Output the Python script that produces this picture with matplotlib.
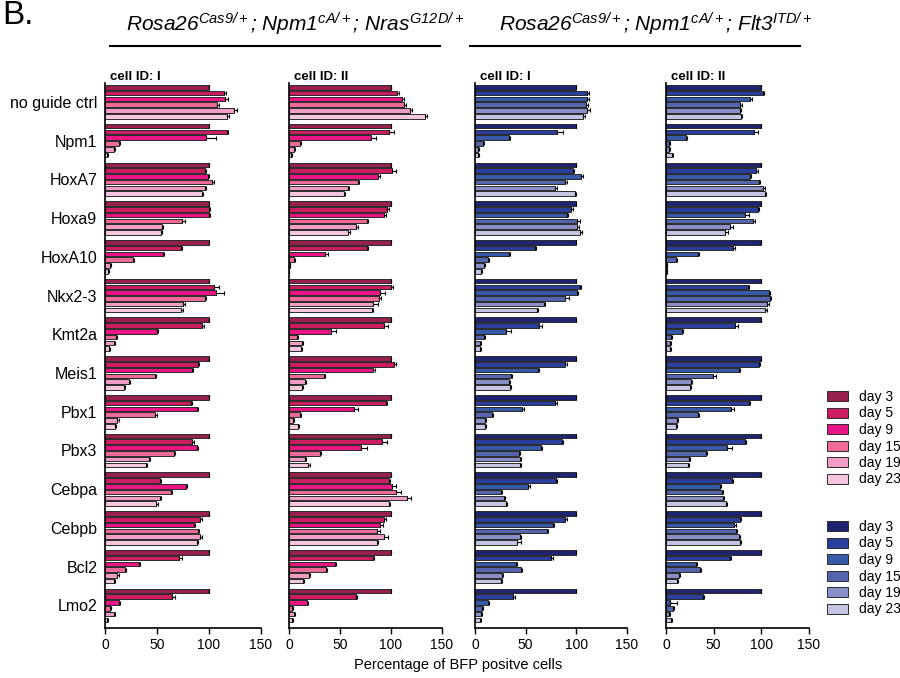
import matplotlib
matplotlib.use('Agg')
import matplotlib.pyplot as plt
import numpy as np
from matplotlib.patches import Patch
from matplotlib.lines import Line2D

plt.rcParams['font.family'] = ['Liberation Sans', 'DejaVu Sans']
plt.rcParams['mathtext.fontset'] = 'custom'
plt.rcParams['mathtext.it'] = 'Liberation Sans:italic'
plt.rcParams['mathtext.rm'] = 'Liberation Sans:italic'
plt.rcParams['mathtext.default'] = 'it'

genes = ['no guide ctrl', 'Npm1', 'HoxA7', 'Hoxa9', 'HoxA10', 'Nkx2-3', 'Kmt2a',
         'Meis1', 'Pbx1', 'Pbx3', 'Cebpa', 'Cebpb', 'Bcl2', 'Lmo2']
days = ['day 3', 'day 5', 'day 9', 'day 15', 'day 19', 'day 23']

pink_colors = ['#98204f', '#cc1c62', '#ea1487', '#ee6a99', '#f19cc4', '#f6c6de']
blue_colors = ['#1f2470', '#2a3e9e', '#3659a8', '#5565ad', '#8a8fc8', '#c4c5e2']

# Nras G12D, cell ID I
nras_I = [[100, 114, 115, 108, 124, 117],
          [100, 117, 97, 13.5, 8.7, 2.3],
          [100, 96.5, 99.4, 103, 96.5, 93],
          [100, 99.7, 99.7, 74.5, 54.5, 53.5],
          [100, 73, 55.5, 26.5, 5, 3],
          [100, 105, 107, 95.8, 75, 72.6],
          [100, 93.5, 49.7, 10.3, 9, 4.2],
          [100, 89.4, 83.5, 47.7, 23, 18],
          [100, 83, 88.7, 48, 12, 10],
          [100, 84, 88.7, 66.5, 42, 39.4],
          [100, 53.3, 78, 63.2, 53.3, 49.5],
          [100, 91.8, 85.2, 89, 91.8, 88.5],
          [100, 71.4, 32.4, 19.2, 12, 8.2],
          [100, 64.3, 13.2, 4.4, 8.2, 2.2]]
nras_I_err = [[0, 2, 3, 2, 3, 2], [0, 1, 10, 1, 1, 1], [0, 1, 1, 2, 1, 1],
              [0, 1, 1, 2, 1, 1], [0, 1, 1, 1, 1, 1], [0, 5, 7, 1, 2, 2],
              [0, 2, 1, 1, 1, 1], [0, 1, 1, 1, 1, 1], [0, 1, 1, 2, 1, 1],
              [0, 2, 1, 1, 1, 1], [0, 1, 1, 1, 1, 1], [0, 1, 1, 1, 1, 1],
              [0, 3, 1, 1, 1, 1], [0, 3, 1, 1, 1, 1]]

# Nras G12D, cell ID II
nras_II = [[100, 106, 110.7, 112.4, 119, 133.5],
           [100, 98.4, 80, 11, 4.6, 2],
           [100, 101, 87.6, 68, 57.7, 54],
           [100, 95.8, 92.8, 76, 65.5, 58],
           [100, 76.5, 34.9, 5.2, 0.7, 0.3],
           [100, 100, 89.6, 88.6, 82.4, 81.8],
           [100, 93, 41.4, 7.8, 12.4, 11.7],
           [100, 103, 82, 34.2, 15.6, 13],
           [100, 95, 63.8, 11, 3.9, 9.1],
           [100, 91.2, 71, 30.6, 16, 18.6],
           [100, 97.8, 101, 104.5, 115.6, 98.3],
           [100, 93.3, 88.8, 86, 93.3, 86.6],
           [100, 82, 44.7, 35.8, 19.6, 14],
           [100, 66, 17.9, 3.4, 4.5, 2.8]]
nras_II_err = [[0, 2, 2, 2, 2, 2], [0, 5, 5, 1, 1, 1], [0, 4, 2, 1, 1, 1],
               [0, 2, 2, 1, 2, 2], [0, 1, 3, 1, 0, 0], [0, 2, 5, 2, 5, 1],
               [0, 4, 5, 1, 1, 1], [0, 2, 2, 1, 1, 1], [0, 1, 4, 1, 1, 1],
               [0, 5, 5, 1, 1, 2], [0, 1, 4, 5, 4, 1], [0, 2, 3, 3, 4, 1],
               [0, 1, 1, 1, 1, 1], [0, 1, 1, 1, 1, 1]]

# Flt3 ITD, cell ID I
flt3_I = [[100, 110.6, 110.6, 109.6, 111, 107],
          [100, 81, 33.4, 7.6, 3.3, 2.6],
          [100, 96.7, 105, 89, 79, 98.7],
          [100, 95, 91, 100.7, 100.3, 103.3],
          [100, 59.3, 34, 12.6, 8.6, 6],
          [100, 103.6, 101, 88.7, 68.2, 61.6],
          [100, 63, 30.8, 9.3, 5, 5],
          [100, 88.7, 62.3, 35.8, 34, 34.8],
          [100, 79, 46, 17.2, 9.6, 10],
          [100, 85.8, 65.2, 43.7, 44.7, 44.4],
          [100, 80.2, 52, 25.4, 28.2, 30.5],
          [100, 89.3, 77.4, 70.6, 44.6, 41.8],
          [100, 74.6, 40.7, 45.2, 27.1, 26],
          [100, 37.9, 13, 6.8, 5.6, 5.1]]
flt3_I_err = [[0, 2, 2, 2, 2, 2], [0, 6, 1, 1, 1, 1], [0, 1, 2, 2, 2, 1],
              [0, 2, 1, 3, 2, 2], [0, 1, 1, 1, 1, 1], [0, 1, 1, 4, 1, 1],
              [0, 3, 5, 1, 1, 1], [0, 2, 1, 1, 1, 1], [0, 2, 2, 1, 1, 1],
              [0, 1, 1, 1, 1, 1], [0, 1, 2, 1, 1, 1], [0, 1, 1, 1, 1, 4],
              [0, 2, 1, 1, 1, 1], [0, 2, 1, 1, 1, 1]]

# Flt3 ITD, cell ID II
flt3_II = [[100, 102, 88.5, 78, 77.4, 78.8],
           [100, 92.7, 20.8, 3.5, 3.5, 6.6],
           [100, 94.4, 87.8, 97.6, 101.4, 103.5],
           [100, 96.9, 83.3, 91, 66.7, 61.8],
           [100, 70, 34, 10.4, 1, 1],
           [100, 86, 107.6, 109, 106.3, 103.8],
           [100, 72.2, 16.7, 5.2, 4.2, 4.5],
           [100, 97.2, 76.4, 49.3, 26.4, 25.3],
           [100, 86.8, 68.4, 33.7, 11.5, 10.4],
           [100, 83.3, 64.2, 41.7, 24, 23.6],
           [100, 69.6, 56.5, 58.3, 59.5, 62.5],
           [100, 77.4, 71.4, 73.2, 76.2, 77.4],
           [100, 66.7, 31, 35.7, 13.7, 11.9],
           [100, 38.7, 4.2, 7.1, 3, 4.8]]
flt3_II_err = [[0, 1, 2, 2, 1, 1], [0, 4, 1, 1, 1, 1], [0, 2, 1, 1, 2, 1],
               [0, 1, 4, 2, 4, 3], [0, 2, 1, 1, 0, 0], [0, 1, 2, 1, 2, 2],
               [0, 3, 1, 1, 1, 1], [0, 1, 1, 3, 1, 1], [0, 1, 3, 1, 1, 1],
               [0, 1, 5, 1, 1, 1], [0, 1, 1, 1, 1, 1], [0, 1, 2, 1, 1, 1],
               [0, 1, 1, 1, 1, 1], [0, 1, 7, 1, 1, 1]]

panels = [(nras_I, nras_I_err, pink_colors, 'cell ID: I'),
          (nras_II, nras_II_err, pink_colors, 'cell ID: II'),
          (flt3_I, flt3_I_err, blue_colors, 'cell ID: I'),
          (flt3_II, flt3_II_err, blue_colors, 'cell ID: II')]

W, H = 900, 678
fig = plt.figure(figsize=(9, 6.78), dpi=100)
lefts = [105, 289, 475, 666]
rights = [261, 442, 627, 809]
top_px, bot_px = 83, 628
gap = 6.7
n = len(genes)

for k, (vals, errs, cols, lab) in enumerate(panels):
    vals = np.array(vals, dtype=float)
    errs = np.array(errs, dtype=float)
    ax = fig.add_axes([lefts[k] / W, 1 - bot_px / H, (rights[k] - lefts[k]) / W,
                       (bot_px - top_px) / H])
    for j in range(6):
        y = np.arange(n) * gap + j
        ax.barh(y, vals[:, j], height=0.8, color=cols[j], edgecolor='#2b2b2b',
                linewidth=0.7,
                xerr=[np.zeros(n), errs[:, j]],
                error_kw=dict(ecolor='black', elinewidth=0.8, capsize=1.3,
                              capthick=0.8))
    last = (n - 1) * gap + 5
    ax.set_ylim(last + 0.4 + 1.0, -0.4 - 0.35)
    ax.set_xlim(0, 150)
    for s in ['top', 'right']:
        ax.spines[s].set_visible(False)
    for s in ['left', 'bottom']:
        ax.spines[s].set_linewidth(1.2)
    ax.set_xticks([0, 50, 100, 150])
    ax.tick_params(axis='x', labelsize=10, length=4, width=1)
    ax.tick_params(axis='y', length=0)
    if k == 0:
        ax.set_yticks(np.arange(n) * gap + 2.5)
        ax.set_yticklabels(genes, fontsize=11.5)
        ax.tick_params(axis='y', pad=5.5)
    else:
        ax.set_yticks([])
    ax.text(0.035, 1.0, lab, transform=ax.transAxes, fontweight='bold',
            fontsize=9.5, va='bottom', ha='left')

# Titles and lines
t1 = r'$Rosa26^{Cas9/+}$; $Npm1^{cA/+}$; $Nras^{G12D/+}$'
t2 = r'$Rosa26^{Cas9/+}$; $Npm1^{cA/+}$; $Flt3^{ITD/+}$'
fig.text(295 / W, 1 - 24 / H, t1, ha='center', va='center', fontsize=15, style='italic')
fig.text(656 / W, 1 - 24 / H, t2, ha='center', va='center', fontsize=15, style='italic')
fig.add_artist(Line2D([110 / W, 440 / W], [1 - 46 / H, 1 - 46 / H], color='black', lw=1.5))
fig.add_artist(Line2D([470 / W, 800 / W], [1 - 46 / H, 1 - 46 / H], color='black', lw=1.5))

fig.text(2 / W, 1 - 16 / H, 'B.', fontsize=24, va='center', ha='left')
fig.text(458 / W, 1 - 665 / H, 'Percentage of BFP positve cells', fontsize=10.5,
         ha='center', va='center')

# Legends
pink_handles = [Patch(facecolor=c, edgecolor='#2b2b2b', linewidth=0.7) for c in pink_colors]
blue_handles = [Patch(facecolor=c, edgecolor='#2b2b2b', linewidth=0.7) for c in blue_colors]
for handles, top in [(pink_handles, 390), (blue_handles, 520)]:
    fig.legend(handles, days, loc='upper left', bbox_to_anchor=(827 / W, 1 - top / H),
               frameon=False, fontsize=10, handlelength=1.5, handleheight=0.75,
               labelspacing=0.18, handletextpad=0.8, borderpad=0, borderaxespad=0)

fig.savefig('out.png', dpi=100)
